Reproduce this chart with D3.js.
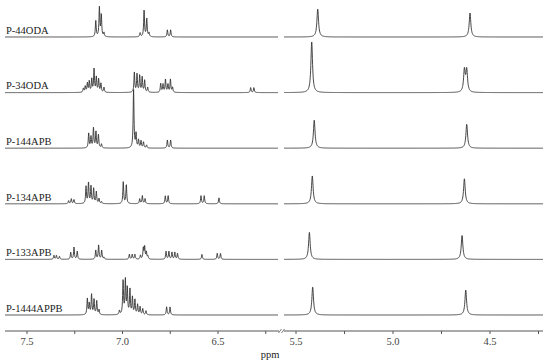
<!DOCTYPE html>
<meta charset="utf-8">

<style>
body { margin: 0; background: #fff; }
svg text { font-family: "Liberation Serif", "DejaVu Serif", serif; }
</style>

<svg width="550" height="364"></svg>

<script src="https://cdn.jsdelivr.net/npm/d3@7"></script>

<script>
// sample names, top to bottom
var samples = ["P-44ODA", "P-34ODA", "P-144APB", "P-134APB", "P-133APB", "P-1444APPB"];

// peak lists: [ppm, intensity]
var peaks44ODA = [
  [7.140, 16], [7.121, 29], [7.111, 22], [7.097, 4],
  [6.908, 4], [6.887, 27], [6.873, 18], [6.861, 4],
  [6.765, 7], [6.748, 7],
  [5.388, 28], [4.603, 24]
];
var peaks34ODA = [
  [7.205, 4], [7.195, 6], [7.184, 9], [7.174, 11], [7.161, 13], [7.149, 23],
  [7.137, 15], [7.125, 13], [7.113, 9], [7.097, 5],
  [6.938, 20], [6.924, 18], [6.910, 17], [6.897, 15], [6.884, 12], [6.868, 5],
  [6.800, 9], [6.788, 8], [6.775, 13], [6.762, 8], [6.749, 13], [6.738, 5],
  [6.329, 5], [6.312, 5],
  [5.419, 51], [4.632, 22], [4.620, 22]
];
var peaks144APB = [
  [7.177, 15], [7.165, 11], [7.152, 20], [7.139, 16], [7.126, 13], [7.110, 4],
  [6.942, 58], [6.929, 14], [6.916, 8], [6.903, 7], [6.890, 6], [6.874, 3],
  [6.765, 8], [6.748, 8],
  [5.406, 28], [4.620, 24]
];
var peaks134APB = [
  [7.282, 3], [7.268, 5], [7.254, 4],
  [7.191, 17], [7.178, 21], [7.165, 17], [7.151, 15], [7.137, 12], [7.123, 5], [7.110, 2],
  [6.996, 22], [6.980, 19],
  [6.910, 5], [6.896, 8], [6.882, 5],
  [6.776, 8], [6.761, 8],
  [6.589, 8], [6.572, 8], [6.495, 6],
  [5.416, 28], [4.632, 25]
];
var peaks133APB = [
  [7.359, 4], [7.346, 4], [7.330, 3],
  [7.271, 7], [7.254, 12], [7.237, 8],
  [7.140, 9], [7.125, 14], [7.109, 9], [7.097, 2],
  [6.964, 5], [6.949, 5], [6.935, 5],
  [6.906, 4], [6.891, 11], [6.884, 12], [6.875, 7], [6.867, 3],
  [6.772, 8], [6.757, 8], [6.741, 7], [6.726, 7], [6.712, 6],
  [6.584, 5], [6.504, 6], [6.487, 6],
  [5.431, 27], [4.644, 24]
];
var peaks1444APPB = [
  [7.184, 16], [7.174, 11], [7.162, 20], [7.149, 15], [7.135, 14], [7.123, 5],
  [7.016, 4], [6.997, 34], [6.985, 34], [6.975, 26], [6.961, 25], [6.948, 17],
  [6.935, 15], [6.921, 10], [6.908, 8], [6.894, 6], [6.877, 4],
  [6.769, 8], [6.751, 8],
  [5.414, 28], [4.625, 25]
];
var spectra = [peaks44ODA, peaks34ODA, peaks144APB, peaks134APB, peaks133APB, peaks1444APPB];

// axis ticks
var leftTicks = [7.5, 7.25, 7.0, 6.75, 6.5, 6.25];
var rightTicks = [5.5, 5.25, 5.0, 4.75, 4.5, 4.25];
var tickLabels = ["7.5", "7.0", "6.5", "5.5", "5.0", "4.5"];

var svg = d3.select("svg");

// broken ppm axis: two linear pieces
var xL = d3.scaleLinear().domain([7.5, 6.5]).range([27, 218]);
var xR = d3.scaleLinear().domain([5.5, 4.5]).range([296, 490]);
var leftPx = [5, 278];
var rightPx = [284, 543];

var yBase = d3.scaleLinear().domain([0, samples.length - 1]).range([37, 315]);
var yInt = d3.scaleLinear().domain([0, 1]).range([0, 1]);

// lorentzian half widths (ppm)
var wL = 0.0026, wR = 0.005;

function intensity(peaks, ppm, w) {
  var s = 0;
  for (var i = 0; i < peaks.length; i++) {
    var d = ppm - peaks[i][0];
    s += peaks[i][1] * w * w / (d * d + w * w);
  }
  return s;
}

function tracePoints(peaks, scale, px, w) {
  var pts = [];
  for (var x = px[0]; x <= px[1]; x += 0.2) {
    var ppm = scale.invert(x);
    pts.push([x, intensity(peaks, ppm, w)]);
  }
  return pts;
}

var traces = svg.append("g").attr("class", "traces");

samples.forEach(function (name, i) {
  var base = yBase(i);
  var line = d3.line()
    .x(function (d) { return d[0] })
    .y(function (d) { return base - yInt(d[1]) });

  traces.append("path")
    .attr("d", line(tracePoints(spectra[i], xL, leftPx, wL)))
    .attr("fill", "none")
    .attr("stroke", "#333")
    .attr("stroke-width", 0.9);

  traces.append("path")
    .attr("d", line(tracePoints(spectra[i], xR, rightPx, wR)))
    .attr("fill", "none")
    .attr("stroke", "#333")
    .attr("stroke-width", 0.9);

  svg.append("text")
    .attr("x", 6)
    .attr("y", base - 3.3)
    .attr("font-size", 10.5)
    .attr("fill", "#222")
    .text(name);
});

// x axis
var axisY = 331;
var ax = svg.append("g").attr("class", "axis");

ax.append("line")
  .attr("x1", leftPx[0]).attr("x2", 279)
  .attr("y1", axisY).attr("y2", axisY)
  .attr("stroke", "#555").attr("stroke-width", 1);
ax.append("line")
  .attr("x1", 284).attr("x2", rightPx[1])
  .attr("y1", axisY).attr("y2", axisY)
  .attr("stroke", "#555").attr("stroke-width", 1);

// break marks
[278.5, 281.5].forEach(function (bx) {
  ax.append("line")
    .attr("x1", bx).attr("x2", bx + 3)
    .attr("y1", axisY + 2).attr("y2", axisY - 2)
    .attr("stroke", "#555").attr("stroke-width", 0.8);
});

function drawTicks(scale, ticks) {
  ticks.forEach(function (t) {
    var x = scale(t);
    ax.append("line")
      .attr("x1", x).attr("x2", x)
      .attr("y1", axisY).attr("y2", axisY + 3)
      .attr("stroke", "#555").attr("stroke-width", 1);
    var lab = t.toFixed(1);
    if (Math.abs(t * 2 - Math.round(t * 2)) < 1e-6 && tickLabels.indexOf(lab) > -1) {
      ax.append("text")
        .attr("x", x)
        .attr("y", axisY + 14)
        .attr("text-anchor", "middle")
        .attr("font-size", 10.5)
        .attr("fill", "#444")
        .text(lab);
    }
  });
}
drawTicks(xL, leftTicks);
drawTicks(xR, rightTicks);

svg.append("text")
  .attr("x", 270)
  .attr("y", 358)
  .attr("text-anchor", "middle")
  .attr("font-size", 10.5)
  .attr("fill", "#222")
  .text("ppm");
</script>
